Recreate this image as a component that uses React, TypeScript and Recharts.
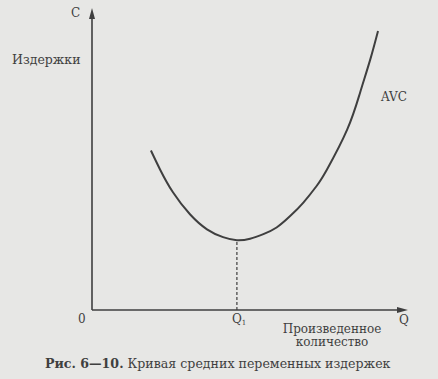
import { ComposedChart, Line, XAxis, YAxis, ReferenceLine, ReferenceDot, Customized } from "recharts";

// AVC curve (Q and C in 0..10 axis units)
const quantity = [1.87, 2.16, 2.57, 3.11, 3.65, 4.16, 4.6, 5.02, 5.44, 5.86, 6.29, 6.71, 7.13, 7.46, 8.1, 8.51, 8.83, 9.08];
const avcCost = [5.3, 4.67, 3.91, 3.18, 2.68, 2.42, 2.32, 2.37, 2.52, 2.74, 3.12, 3.57, 4.12, 4.67, 5.99, 7.22, 8.31, 9.27];
const q1 = 4.6;
const q1Cost = 2.32;

const data = quantity.map((q, i) => ({ q, avc: avcCost[i] }));

const BG = "#e7e7e5";
const INK = "#3f3f3f";
const FONT = "'DejaVu Serif', 'Liberation Serif', serif";

// eslint-disable-next-line @typescript-eslint/no-explicit-any
const ArrowUp = (props: any) => {
  const { cx, cy } = props;
  return <path d={`M${cx},${cy - 1} L${cx - 3},${cy + 10} L${cx + 3},${cy + 10} Z`} fill={INK} />;
};

// eslint-disable-next-line @typescript-eslint/no-explicit-any
const ArrowRight = (props: any) => {
  const { cx, cy } = props;
  return <path d={`M${cx + 1},${cy} L${cx - 10},${cy - 3} L${cx - 10},${cy + 3} Z`} fill={INK} />;
};

// eslint-disable-next-line @typescript-eslint/no-explicit-any
const Q1Mark = (props: any) => {
  const { cx, cy } = props;
  return (
    <text x={cx - 5} y={cy + 13} fill={INK} fontSize={12} fontFamily={FONT}>
      Q<tspan fontSize={7} dy={2}>1</tspan>
    </text>
  );
};

const Labels = () => (
  <g fill={INK} fontFamily={FONT} fontSize={12}>
    <text x={71} y={17}>C</text>
    <text x={12} y={64} fontSize={12.5}>Издержки</text>
    <text x={78} y={323}>0</text>
    <text x={399} y={324}>Q</text>
    <text x={381} y={101}>AVC</text>
    <text x={332} y={333} textAnchor="middle">Произведенное</text>
    <text x={332} y={346} textAnchor="middle">количество</text>
    <text x={45} y={368} fontSize={12.6}>
      <tspan fontWeight="bold">Рис. 6—10.</tspan> Кривая средних переменных издержек
    </text>
  </g>
);

export default function App() {
  return (
    <div style={{ position: "absolute", left: 0, top: 0, width: 438, height: 379, background: BG }}>
      <ComposedChart
        width={438}
        height={379}
        data={data}
        margin={{ top: 9, right: 31, bottom: 69, left: 92 }}
      >
        <XAxis type="number" dataKey="q" domain={[0, 10]} hide allowDataOverflow />
        <YAxis type="number" domain={[0, 10]} hide allowDataOverflow />
        <ReferenceLine
          segment={[
            { x: 0, y: 0 },
            { x: 0, y: 9.7 },
          ]}
          stroke={INK}
          strokeWidth={1.6}
          ifOverflow="visible"
        />
        <ReferenceLine
          segment={[
            { x: 0, y: 0 },
            { x: 9.7, y: 0 },
          ]}
          stroke={INK}
          strokeWidth={1.6}
          ifOverflow="visible"
        />
        <ReferenceLine
          segment={[
            { x: q1, y: 0 },
            { x: q1, y: q1Cost },
          ]}
          stroke={INK}
          strokeWidth={1.2}
          strokeDasharray="3 2"
        />
        <Line
          type="natural"
          dataKey="avc"
          stroke={INK}
          strokeWidth={2}
          dot={false}
          isAnimationActive={false}
        />
        <ReferenceDot x={0} y={10} r={0} shape={<ArrowUp />} ifOverflow="visible" />
        <ReferenceDot x={10} y={0} r={0} shape={<ArrowRight />} ifOverflow="visible" />
        <ReferenceDot x={q1} y={0} r={0} shape={<Q1Mark />} ifOverflow="visible" />
        <Customized component={<Labels />} />
      </ComposedChart>
    </div>
  );
}
